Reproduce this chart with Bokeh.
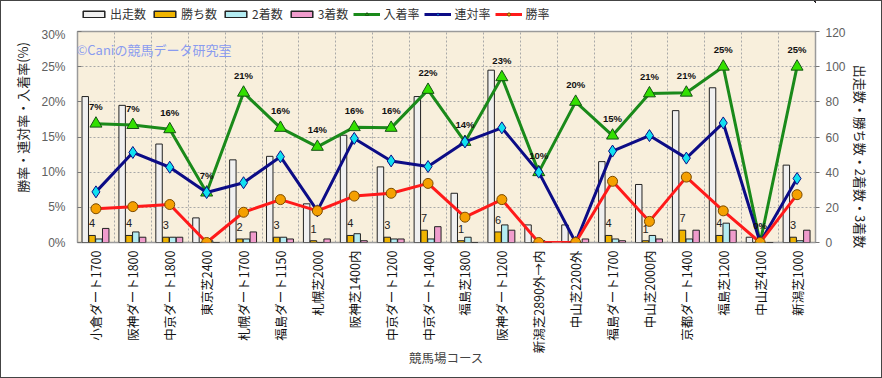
import math
from bokeh.plotting import figure
from bokeh.layouts import column
from bokeh.models import (Range1d, LinearAxis, FixedTicker, PrintfTickFormatter,
                          Legend, LegendItem, Label, ColumnDataSource)
from bokeh.transform import dodge
from bokeh.core.properties import value
from bokeh.embed import file_html
from bokeh.resources import INLINE

courses = ["小倉ダート1700", "阪神ダート1800", "中京ダート1800", "東京芝2400", "札幌ダート1700",
           "福島ダート1150", "札幌芝2000", "阪神芝1400内", "中京ダート1200", "中京ダート1400",
           "福島芝1800", "阪神ダート1200", "新潟芝2890外→内", "中山芝2200外", "福島ダート1700",
           "中山芝2000内", "京都ダート1400", "福島芝1200", "中山芝4100", "新潟芝1000"]
starts  = [83, 78, 56, 14, 47, 49, 22, 61, 43, 83, 28, 98, 10, 10, 46, 33, 75, 88, 3, 44]
wins    = [4, 4, 3, 0, 2, 3, 1, 4, 3, 7, 1, 6, 0, 0, 4, 1, 7, 4, 0, 3]
seconds = [2, 6, 3, 1, 2, 3, 0, 5, 2, 2, 3, 10, 1, 0, 2, 4, 2, 11, 0, 1]
thirds  = [8, 3, 3, 0, 6, 2, 2, 1, 2, 9, 0, 7, 0, 2, 1, 2, 7, 7, 0, 7]
win_rate    = [4.8, 5.1, 5.4, 0.0, 4.3, 6.1, 4.5, 6.6, 7.0, 8.4, 3.6, 6.1, 0.0, 0.0, 8.7, 3.0, 9.3, 4.5, 0.0, 6.8]
rentai_rate = [7.2, 12.8, 10.7, 7.1, 8.5, 12.2, 4.5, 14.8, 11.6, 10.8, 14.3, 16.3, 10.0, 0.0, 13.0, 15.2, 12.0, 17.0, 0.0, 9.1]
place_rate  = [16.9, 16.7, 16.1, 7.1, 21.3, 16.3, 13.6, 16.4, 16.3, 21.7, 14.3, 23.5, 10.0, 20.0, 15.2, 21.2, 21.3, 25.0, 0.0, 25.0]
place_labels = ["7%", "7%", "16%", "7%", "21%", "16%", "14%", "16%", "16%", "22%", "14%", "23%",
                "10%", "20%", "15%", "21%", "21%", "25%", "0%", "25%"]
win_labels = ["4", "4", "3", "", "2", "3", "1", "4", "3", "7", "1", "6", "", "", "4", "1", "7", "4", "", "3"]
left_ticks = [0, 5, 10, 15, 20, 25, 30]
right_ticks = [0, 20, 40, 60, 80, 100, 120]
series_names = ["出走数", "勝ち数", "2着数", "3着数", "入着率", "連対率", "勝率"]
bar_cols = ["starts", "wins", "seconds", "thirds"]
line_cols = ["place_rate", "rentai_rate", "win_rate"]

n = len(courses)
xs = [i + 0.5 for i in range(n)]
src = ColumnDataSource(dict(x=xs, starts=starts, wins=wins, seconds=seconds, thirds=thirds,
                            win_rate=win_rate, rentai_rate=rentai_rate, place_rate=place_rate,
                            place_labels=place_labels, win_labels=win_labels))

JP = "Noto Sans CJK JP"
BAR_COLORS = ["#f0f0f0", "#f0b400", "#b4ecf2", "#f09ccc"]
BAR_OFFS = [-0.29, -0.105, 0.08, 0.265]
LINE_STYLES = [("#1a8a1a", "triangle", 12, "#33e000", "#145214"),
               ("#0c0c86", "diamond", 12, "#10e0f0", "#0c0c86"),
               ("#ff1a1a", "circle", 10, "#f5a000", "#7a4a00")]

# ---------------- main chart ----------------
p = figure(width=880, height=350, output_backend="svg", toolbar_location=None,
           x_range=Range1d(0, n), y_range=Range1d(0, 30),
           min_border_left=76, min_border_right=66, min_border_top=4, min_border_bottom=135)
p.background_fill_color = "#f8efdc"
p.border_fill_color = "white"
p.outline_line_color = "#9a9a9a"
p.outline_line_width = 1.5

ya = p.yaxis[0]
ya.ticker = FixedTicker(ticks=left_ticks)
ya.formatter = PrintfTickFormatter(format="%d%%")
ya.axis_line_color = None
ya.major_tick_in = 4
ya.major_tick_out = 0
ya.minor_tick_line_color = None
ya.major_tick_line_color = "#777777"
ya.major_label_text_font = "Liberation Sans"
ya.major_label_text_font_size = "12px"
ya.major_label_text_color = "#606060"
ya.major_label_standoff = 12
ya.axis_label = "\u3000\u3000\u3000勝率・連対率・入着率(%)"
ya.axis_label_text_font = JP
ya.axis_label_text_font_size = "13px"
ya.axis_label_text_font_style = "normal"
ya.axis_label_text_color = "#222222"
ya.axis_label_standoff = 6

p.extra_y_ranges = {"cnt": Range1d(0, 120)}
ra = LinearAxis(y_range_name="cnt", ticker=FixedTicker(ticks=right_ticks))
ra.axis_line_color = None
ra.major_tick_in = 0
ra.major_tick_out = 4
ra.minor_tick_line_color = None
ra.major_tick_line_color = "#777777"
ra.major_label_text_font = "Liberation Sans"
ra.major_label_text_font_size = "12px"
ra.major_label_text_color = "#606060"
ra.major_label_standoff = 6
ra.axis_label = "\u3000\u3000\u3000出走数・勝ち数・2着数・3着数"
ra.axis_label_text_font = JP
ra.axis_label_text_font_size = "13px"
ra.axis_label_text_font_style = "normal"
ra.axis_label_text_color = "#222222"
ra.axis_label_standoff = 2
p.add_layout(ra, "right")

xa = p.xaxis[0]
xa.ticker = FixedTicker(ticks=xs)
xa.major_label_overrides = {x: c for x, c in zip(xs, courses)}
xa.major_label_orientation = math.pi / 2
xa.major_label_text_font = JP
xa.major_label_text_font_size = "12.5px"
xa.major_label_text_color = "#111111"
xa.major_label_standoff = 8
xa.axis_line_color = None
xa.major_tick_in = 0
xa.major_tick_out = 0
xa.minor_tick_line_color = None
xa.axis_label = "競馬場コース"
xa.axis_label_text_font = JP
xa.axis_label_text_font_size = "12.5px"
xa.axis_label_text_font_style = "normal"
xa.axis_label_text_color = "#444444"
xa.axis_label_standoff = -8

p.xgrid.ticker = FixedTicker(ticks=list(range(1, n)))
p.ygrid.ticker = FixedTicker(ticks=left_ticks[1:-1])
for g in (p.xgrid, p.ygrid):
    g.grid_line_color = "#a8a8a8"
    g.grid_line_dash = "2 2"
    g.grid_line_width = 1

bw = 0.175
for col, off, colr in zip(bar_cols, BAR_OFFS, BAR_COLORS):
    p.vbar(x=dodge("x", off, range=p.x_range), top=col, width=bw, source=src,
           y_range_name="cnt", fill_color=colr, line_color="#222222", line_width=1)

p.text(x=dodge("x", -0.105, range=p.x_range), y="wins", text="win_labels", source=src,
       y_range_name="cnt", y_offset=-12, text_align="center", text_baseline="middle",
       text_font=value("Liberation Sans"), text_font_size="11px", text_color="#222222")

for col, (lc, mk, ms, mf, ml) in zip(line_cols, LINE_STYLES):
    p.line("x", col, source=src, line_color=lc, line_width=3)
    p.scatter("x", col, source=src, marker=mk, size=ms, fill_color=mf, line_color=ml, line_width=1)

p.text(x="x", y="place_rate", text="place_labels", source=src, y_offset=-17,
       text_align="center", text_baseline="middle", text_font=value("Liberation Sans"),
       text_font_style="bold", text_font_size="9.5px", text_color="#111111")

p.add_layout(Label(x=-1, y=193, x_units="screen", y_units="screen", text="©Caniの競馬データ研究室",
                   text_align="left", text_baseline="middle",
                   text_font=JP, text_font_size="13px", text_color="#8a9bef"))

# ---------------- legend strip (same series, view range kept off the data) ----------------
lg = figure(width=880, height=26, output_backend="svg", toolbar_location=None,
            x_range=Range1d(-100, -99), y_range=Range1d(-100, -99),
            x_axis_location=None, y_axis_location=None,
            min_border_left=0, min_border_right=0, min_border_top=0, min_border_bottom=0)
lg.grid.visible = False
lg.outline_line_color = None
lg.background_fill_color = "white"
items = []
for name, col, colr in zip(series_names[:4], bar_cols, BAR_COLORS):
    r = lg.vbar(x="x", top=col, width=0.1, source=src, fill_color=colr, line_color="#222222", line_width=1.5)
    items.append(LegendItem(label=name, renderers=[r]))
for name, col, (lc, mk, ms, mf, ml) in zip(series_names[4:], line_cols, LINE_STYLES):
    r1 = lg.line("x", col, source=src, line_color=lc, line_width=3)
    r2 = lg.scatter("x", col, source=src, marker=mk, size=ms - 3, fill_color=mf, line_color=ml, line_width=1)
    items.append(LegendItem(label=name, renderers=[r1, r2]))
legend = Legend(items=items, orientation="horizontal", location=(3, 5))
legend.label_text_font = JP
legend.label_text_font_size = "12px"
legend.label_text_color = "#333333"
legend.glyph_width = 27
legend.glyph_height = 8
legend.label_standoff = 3
legend.spacing = 5
legend.padding = 0
legend.margin = 0
legend.label_height = 14
legend.border_line_alpha = 0
legend.background_fill_alpha = 0
lg.add_layout(legend)

layout = column(lg, p, spacing=0)
layout.styles = {"border": "1px solid #444444", "background-color": "white"}

open("out.html", "w").write(file_html(layout, INLINE))
